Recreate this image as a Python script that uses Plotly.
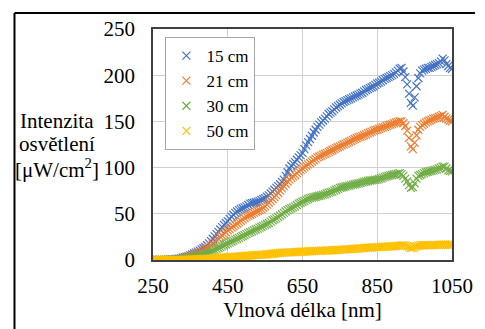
import plotly.graph_objects as go

wavelength = list(range(250, 1051, 5))

series_names = ["15 cm", "21 cm", "30 cm", "50 cm"]
series_colors = ["#4472C4", "#ED7D31", "#70AD47", "#FFC000"]

i_15cm = [0, 0, 0, 0, 0, 0, 0, 0.2, 0.3, 0.4,
          0.5, 0.7, 1, 1.2, 1.5, 2, 2.5, 3, 3.5, 4.2,
          5, 6, 7, 8, 9, 10.2, 11.5, 12.7, 14, 16,
          18, 20.5, 23, 25.5, 28, 30.5, 33, 35.5, 38, 40,
          42, 44.5, 47, 49, 51, 52.5, 54, 55, 56, 57,
          58, 59.5, 61, 61.5, 62, 62.5, 63, 64, 65, 66,
          67, 68.5, 70, 72, 74, 76, 78, 80, 82, 84.5,
          87, 91, 95, 99, 102, 104, 106, 108.5, 111, 113.5,
          116, 120, 124, 127.5, 131, 134.5, 138, 141, 144, 146.5,
          149, 151, 153, 155.5, 158, 159.5, 161, 163, 165, 166.5,
          168, 169.5, 171, 172, 173, 174, 175, 176, 177, 178,
          179, 180, 181, 182.5, 184, 185, 186, 187, 188, 189.5,
          191, 192, 193, 194.5, 196, 197, 198, 199, 200, 201.5,
          203, 205, 207, 208, 204, 198, 190, 180, 170, 167,
          176, 188, 197, 202, 205, 206, 207, 208, 208, 209,
          210, 211, 212, 213, 215, 218, 216, 212, 210, 208,
          207]

i_21cm = [0, 0, 0, 0, 0, 0, 0, 0, 0, 0,
          0, 0.2, 0.5, 0.7, 1, 1.2, 1.5, 2, 2.5, 3,
          3.5, 4.2, 5, 6, 7, 8, 9, 10.5, 12, 13,
          14, 15.5, 17, 19, 21, 23, 25, 26.5, 28, 30,
          32, 33.5, 35, 36.5, 38, 39.5, 41, 42.5, 44, 45.5,
          47, 48, 49, 50, 51, 52, 53, 54, 55, 56.5,
          58, 60, 62, 64, 66, 68, 70, 72.5, 75, 77.5,
          80, 82.5, 85, 87, 89, 90.5, 92, 94, 96, 97.5,
          99, 100.5, 102, 103.5, 105, 106.5, 108, 109.5, 111, 112,
          113, 114, 115, 116, 117, 118, 119, 120, 121, 122,
          123, 124, 125, 126, 127, 128, 129, 130, 131, 132,
          133, 133.5, 134, 135, 136, 137, 138, 139, 140, 140.5,
          141, 142, 143, 143.5, 144, 145, 146, 146.5, 147, 148,
          149, 149.5, 150, 150, 148, 145, 140, 132, 123, 120,
          127, 135, 141, 144, 146, 147.5, 149, 150, 151, 152,
          153, 153.5, 154, 155, 156, 157, 155, 153, 152, 151,
          150]

i_30cm = [0, 0, 0, 0, 0, 0, 0, 0, 0, 0,
          0, 0.1, 0.3, 0.4, 0.6, 0.8, 1, 1.2, 1.5, 1.7,
          2, 2.5, 3, 3.5, 4, 4.5, 5, 5.7, 6.5, 7.2,
          8, 9, 10, 11, 12, 13, 14, 15, 16, 17,
          18, 19, 20, 21, 22, 23, 24, 25, 26, 27,
          28, 29, 30, 31, 32, 33, 34, 35, 36, 37,
          38, 39, 40, 41.5, 43, 44, 45, 46.5, 48, 49.5,
          51, 52.5, 54, 55, 56, 57, 58, 59.5, 61, 62,
          63, 64, 65, 66, 67, 67.5, 68, 68.5, 69, 69.5,
          70, 70.5, 71, 72, 73, 73.5, 74, 75, 76, 77,
          78, 78.5, 79, 79.5, 80, 80.5, 81, 81.5, 82, 82.5,
          83, 83.5, 84, 84.5, 85, 85.5, 86, 86.2, 86.5, 86.8,
          87, 87.7, 88.5, 89.2, 90, 90.5, 91, 91.5, 92, 92.5,
          93, 93.5, 94, 93, 91, 88, 85, 81, 78, 79,
          83, 88, 91, 92, 93, 94, 95, 95.5, 96, 96.5,
          97, 97.5, 98, 99, 100, 101, 101, 99, 97, 96.5,
          96]

i_50cm = [0, 0, 0, 0, 0, 0, 0, 0, 0, 0,
          0, 0, 0, 0.05, 0.1, 0.15, 0.2, 0.3, 0.4, 0.45,
          0.5, 0.6, 0.7, 0.8, 0.9, 1, 1.1, 1.2, 1.3, 1.4,
          1.5, 1.65, 1.8, 1.95, 2.1, 2.25, 2.4, 2.55, 2.7, 2.85,
          3, 3.15, 3.3, 3.45, 3.6, 3.75, 3.9, 4.05, 4.2, 4.35,
          4.5, 4.65, 4.8, 4.95, 5.1, 5.25, 5.4, 5.55, 5.7, 5.85,
          6, 6.2, 6.4, 6.6, 6.8, 7, 7.2, 7.4, 7.6, 7.8,
          8, 8.1, 8.2, 8.3, 8.4, 8.5, 8.6, 8.7, 8.8, 8.9,
          9, 9.1, 9.2, 9.3, 9.4, 9.5, 9.6, 9.7, 9.8, 9.9,
          10, 10.1, 10.2, 10.3, 10.4, 10.5, 10.6, 10.7, 10.8, 10.9,
          11, 11.15, 11.3, 11.45, 11.6, 11.75, 11.9, 12.05, 12.2, 12.35,
          12.5, 12.65, 12.8, 12.95, 13.1, 13.25, 13.4, 13.55, 13.7, 13.85,
          14, 14.1, 14.2, 14.3, 14.4, 14.5, 14.6, 14.7, 14.8, 14.9,
          15, 15.2, 15.5, 15.7, 16, 15.6, 15, 14, 13, 13.2,
          14, 15, 15.5, 15.8, 16, 16, 16, 16, 16, 16.1,
          16.2, 16.2, 16.3, 16.4, 16.5, 16.6, 16.6, 16.6, 16.5, 16.5,
          16.5]

x_ticks = [250, 450, 650, 850, 1050]
y_ticks = [0, 50, 100, 150, 200, 250]

FONT = "Liberation Serif"

fig = go.Figure()
for name, color, vals in zip(series_names, series_colors, [i_15cm, i_21cm, i_30cm, i_50cm]):
    n = min(len(wavelength), len(vals))
    fig.add_trace(go.Scatter(
        x=wavelength[:n], y=vals[:n], name=name, mode="markers",
        marker=dict(symbol="x-thin", size=8, color=color,
                    line=dict(color=color, width=1.2)),
    ))

W, H = 485, 329
L, R, T, B = 153, 19, 29, 69
pw, ph = W - L - R, H - T - B

def px(x):
    return (x - L) / pw

def py(y):
    return (H - B - y) / ph

fig.update_layout(
    width=W, height=H,
    margin=dict(l=L, r=R, t=T, b=B),
    paper_bgcolor="white", plot_bgcolor="white",
    font=dict(family=FONT, size=21, color="black"),
    showlegend=True,
    legend=dict(
        x=px(166), y=py(37), xanchor="left", yanchor="top",
        font=dict(family=FONT, size=17, color="black"),
        bgcolor="white", bordercolor="#A6A6A6", borderwidth=1,
        itemwidth=30, tracegroupgap=0,
    ),
    xaxis=dict(
        range=[250, 1050], tickvals=x_ticks, ticktext=[str(v) for v in x_ticks],
        showgrid=True, gridcolor="#D0D0D0", gridwidth=1,
        showline=True, linecolor="#404040", linewidth=1.5, mirror=True,
        ticks="", zeroline=False,
        tickfont=dict(family=FONT, size=21, color="black"),
        ticklabelstandoff=6, ticklabeloverflow="allow",
        title=dict(text="Vlnová délka [nm]", font=dict(family=FONT, size=21, color="black"), standoff=2),
    ),
    yaxis=dict(
        range=[0, 250], tickvals=y_ticks,
        showgrid=True, gridcolor="#D0D0D0", gridwidth=1,
        showline=True, linecolor="#404040", linewidth=1.5, mirror=True,
        ticks="", zeroline=False,
        tickfont=dict(family=FONT, size=21, color="black"),
        ticklabelstandoff=12,
    ),
)

for text, cy in [("Intenzita", 121), ("osvětlení", 144), ("[μW/cm<sup>2</sup>]", 168)]:
    fig.add_annotation(
        text=text, xref="paper", yref="paper", x=px(53), y=py(cy),
        xanchor="center", yanchor="middle", showarrow=False,
        font=dict(family=FONT, size=21, color="black"),
    )

# outer chart frame (top and left edges visible)
fig.add_shape(type="line", xref="paper", yref="paper",
              x0=px(8), x1=px(490), y0=py(13), y1=py(13),
              line=dict(color="black", width=2))
fig.add_shape(type="line", xref="paper", yref="paper",
              x0=px(8), x1=px(8), y0=py(13), y1=py(335),
              line=dict(color="black", width=2))

fig.write_html("out.html", config={"displayModeBar": False},
               post_script="document.body.style.margin='0';")
